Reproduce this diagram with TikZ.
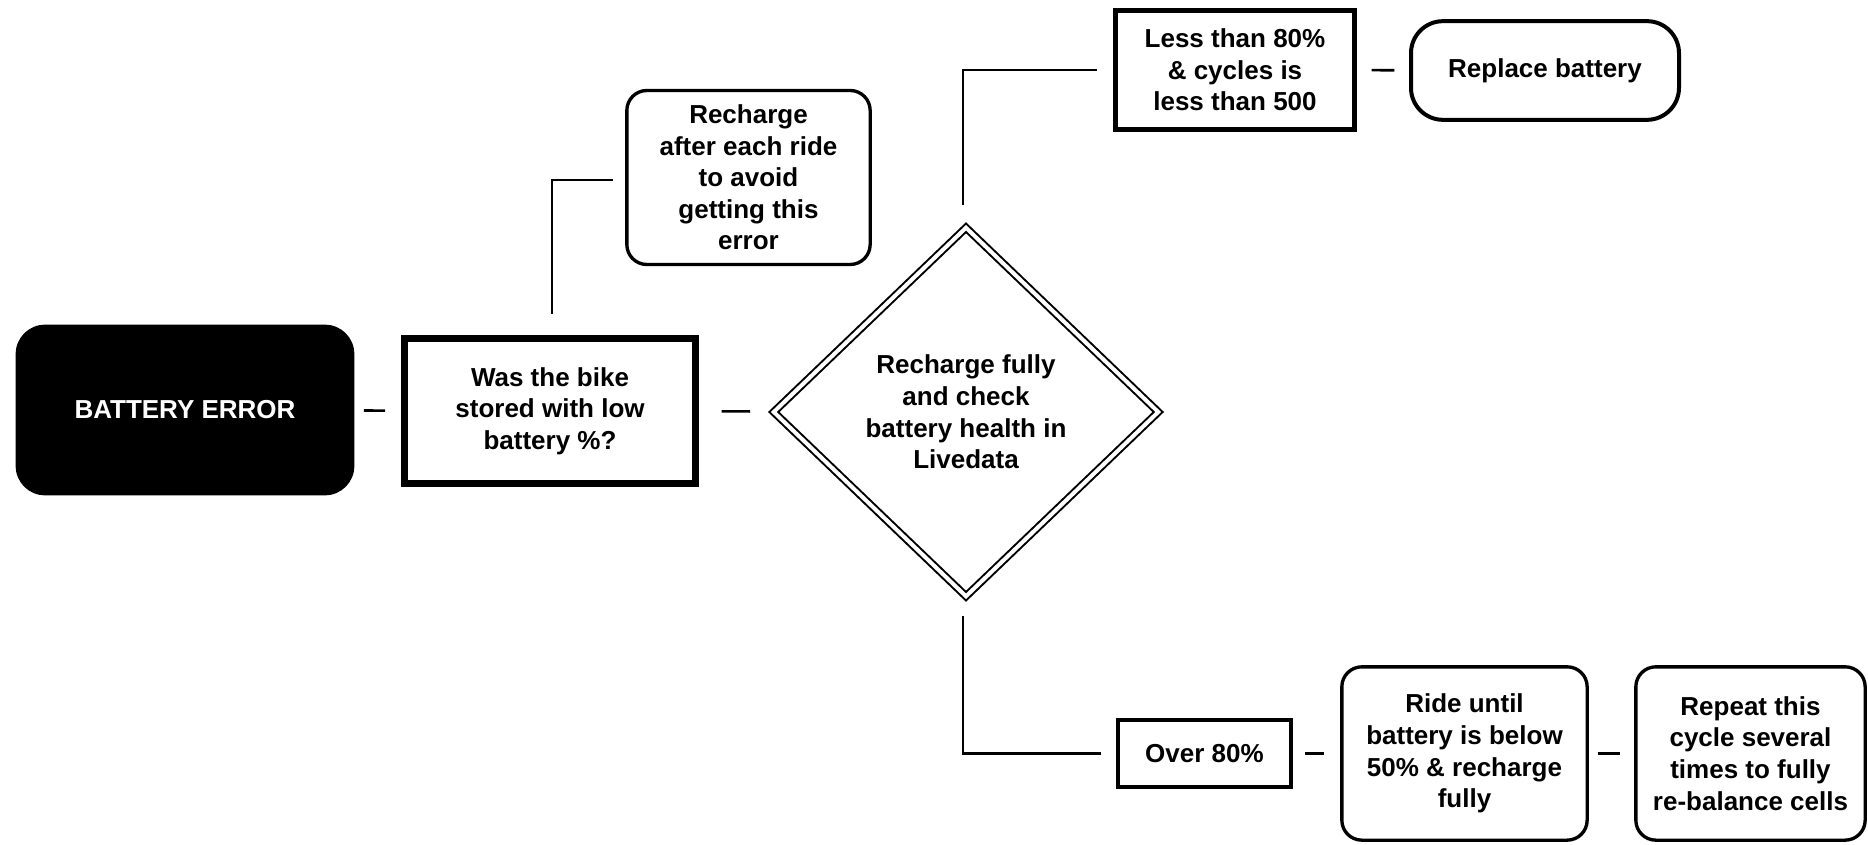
\documentclass[tikz,border=0pt]{standalone}
\usepackage{fontspec}
\setmainfont{Liberation Sans}
\usetikzlibrary{shapes.geometric}
\begin{document}
\begin{tikzpicture}[x=0.75pt,y=-0.75pt,
  every node/.style={font=\fontsize{19.5}{23.7}\selectfont\bfseries, align=center, inner sep=0pt},
  sqbox/.style={draw, rectangle, line width=3.5pt},
  rbox/.style={draw, rectangle, rounded corners=15pt, line width=2.5pt},
  link/.style={draw, line width=1.6pt},
  gapline/.style={draw, line width=1.9pt}
]
\useasboundingbox[fill=white] (0,0) rectangle (1868,845);
\node[fill=black, text=white, rounded corners=22pt, minimum width=254pt, minimum height=128pt] (be) at (185,410) {BATTERY ERROR};
\node[sqbox, line width=5pt, minimum width=218.5pt, minimum height=109pt] (was) at (550,411) {Was the bike\\stored with low\\battery \%?};
\node[diamond, draw, double, double distance=3pt, line width=1.5pt, minimum width=289pt, minimum height=277pt] (dia) at (966,412) {Recharge fully\\and check\\battery health in\\Livedata};
\node[rbox, minimum width=182.5pt, minimum height=130.5pt] (rech) at (748.5,177.5) {Recharge\\after each ride\\to avoid\\getting this\\error};
\node[sqbox, minimum width=179.5pt, minimum height=89.5pt] (less) at (1235,70) {Less than 80\%\\\&\ cycles is\\less than 500};
\node[rbox, line width=3pt, rounded corners=24pt, minimum width=201pt, minimum height=74pt] (repl) at (1545,70.5) {Replace battery};
\node[sqbox, line width=3pt, minimum width=130pt, minimum height=50pt] (over) at (1204.5,753.5) {Over 80\%};
\node[rbox, minimum width=184pt, minimum height=130pt] (ride) at (1464.5,753.5) {Ride until\\battery is below\\50\% \& recharge\\fully};
\node[rbox, minimum width=172pt, minimum height=130pt] (rep) at (1750.5,753.5) {Repeat this\\cycle several\\times to fully\\re-balance cells};
% short lines between neighbours
\draw[gapline, shorten <=7pt, shorten >=12pt] (be) -- (was);
\draw[gapline, shorten <=17pt, shorten >=17pt] (was) -- (dia);
\draw[gapline, shorten <=11pt, shorten >=11pt] (less) -- (repl);
\draw[gapline, shorten <=9pt, shorten >=12pt] (over) -- (ride);
\draw[gapline, shorten <=6.5pt, shorten >=11pt] (ride) -- (rep);
% elbow connectors
\draw[link, shorten <=16pt, shorten >=9pt] ([xshift=1.5pt]was.north) |- ([yshift=-2pt]rech.west);
\draw[link, shorten <=16pt, shorten >=12pt] ([xshift=-2pt]dia.north) |- (less.west);
\draw[link, shorten <=14pt, shorten >=11pt] ([xshift=-2pt]dia.south) |- (over.west);
\end{tikzpicture}
\end{document}
